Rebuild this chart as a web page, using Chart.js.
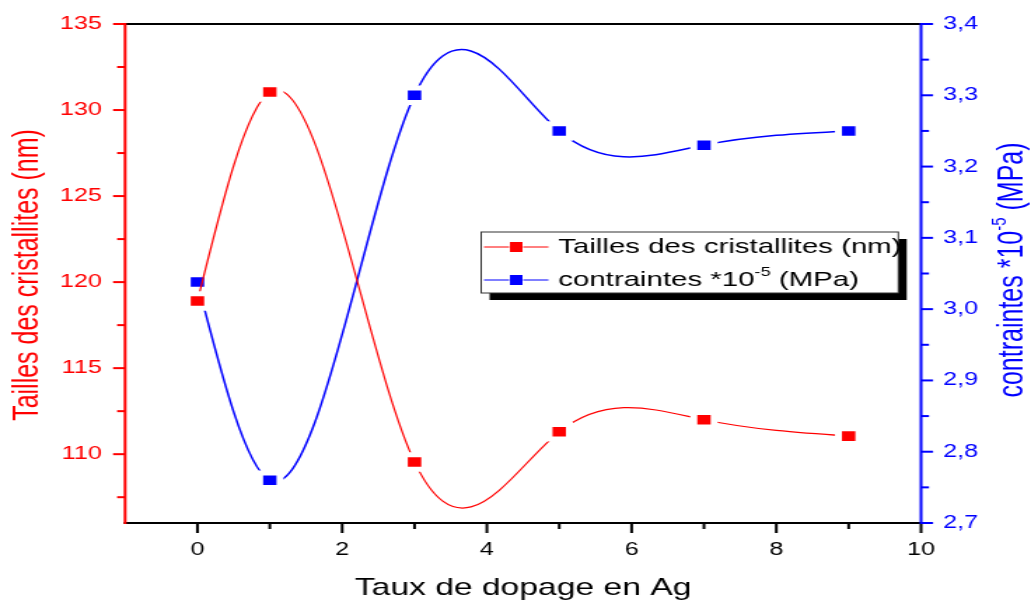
<!DOCTYPE html>
<html>
<head>
<meta charset="utf-8">
<script src="https://cdn.jsdelivr.net/npm/chart.js@4.4.0/dist/chart.umd.min.js"></script>
<style>
  html, body { margin: 0; padding: 0; background: #fff; overflow: hidden; }
  /* the plot is drawn narrow and widened horizontally */
  #wrap { width: 736px; height: 603px; transform: scaleX(1.4008); transform-origin: 0 0; }
</style>
</head>
<body>
<div id="wrap"><canvas id="chart" width="736" height="603"></canvas></div>
<script>
const dopage = [0, 1, 3, 5, 7, 9];
const tailles = [118.9, 131.05, 109.55, 111.3, 112.0, 111.05];
const contraintes = [3.038, 2.76, 3.30, 3.25, 3.23, 3.25];

const xTicks = [0, 2, 4, 6, 8, 10];
const xMinor = [1, 3, 5, 7, 9];
const leftTicks = [110, 115, 120, 125, 130, 135];
const leftMinor = [107.5, 112.5, 117.5, 122.5, 127.5, 132.5];
const rightTicks = [2.7, 2.8, 2.9, 3.0, 3.1, 3.2, 3.3, 3.4];
const rightMinor = [2.75, 2.85, 2.95, 3.05, 3.15, 3.25, 3.35];

const FONT = '"Liberation Sans", Arial, sans-serif';
const RED = '#ff0000';
const BLUE = '#0000ff';

function seg(ctx, x1, y1, x2, y2, color, w) {
    ctx.beginPath();
    ctx.strokeStyle = color;
    ctx.lineWidth = w;
    ctx.moveTo(x1, y1);
    ctx.lineTo(x2, y2);
    ctx.stroke();
}

// slopes of a natural cubic spline through (xs, ys)
function splineSlopes(xs, ys) {
    const n = xs.length;
    const h = [];
    for (let i = 0; i < n - 1; i++) h.push(xs[i + 1] - xs[i]);
    const a = [], b = [], c = [], d = [];
    for (let i = 1; i < n - 1; i++) {
        a.push(h[i - 1]);
        b.push(2 * (h[i - 1] + h[i]));
        c.push(h[i]);
        d.push(6 * ((ys[i + 1] - ys[i]) / h[i] - (ys[i] - ys[i - 1]) / h[i - 1]));
    }
    const m = d.length;
    for (let i = 1; i < m; i++) {
        const w = a[i] / b[i - 1];
        b[i] -= w * c[i - 1];
        d[i] -= w * d[i - 1];
    }
    const M = new Array(n).fill(0);
    M[m] = d[m - 1] / b[m - 1];
    for (let i = m - 2; i >= 0; i--) M[i + 1] = (d[i] - c[i] * M[i + 2]) / b[i];
    const s = [];
    for (let i = 0; i < n; i++) {
        if (i < n - 1) s.push((ys[i + 1] - ys[i]) / h[i] - h[i] * (2 * M[i] + M[i + 1]) / 6);
        else s.push((ys[i] - ys[i - 1]) / h[i - 1] + h[i - 1] * (M[i - 1] + 2 * M[i]) / 6);
    }
    return s;
}

// replaces chart.js bezier handles with the ones of a cubic spline
const splinePlugin = {
    id: 'spline',
    beforeDatasetDraw(chart, args) {
        const meta = args.meta;
        const ds = chart.data.datasets[args.index];
        const sx = chart.scales[meta.xAxisID];
        const sy = chart.scales[meta.yAxisID];
        const xs = ds.data.map(p => p.x);
        const ys = ds.data.map(p => p.y);
        const k = splineSlopes(xs, ys);
        meta.data.forEach((pt, i) => {
            const hp = i > 0 ? xs[i] - xs[i - 1] : 0;
            const hn = i < xs.length - 1 ? xs[i + 1] - xs[i] : 0;
            pt.cp1x = sx.getPixelForValue(xs[i] - hp / 3);
            pt.cp1y = sy.getPixelForValue(ys[i] - k[i] * hp / 3);
            pt.cp2x = sx.getPixelForValue(xs[i] + hn / 3);
            pt.cp2y = sy.getPixelForValue(ys[i] + k[i] * hn / 3);
        });
        meta.dataset._pointsUpdated = true;
        meta.dataset._path = undefined;
    }
};

// text with a raised "-5" exponent, drawn from x (left aligned, middle baseline)
function drawPowerText(ctx, x, y, size, color) {
    const parts = ['contraintes *10', '-5', ' (MPa)'];
    ctx.fillStyle = color;
    ctx.textBaseline = 'middle';
    ctx.textAlign = 'left';
    ctx.font = size + 'px ' + FONT;
    ctx.fillText(parts[0], x, y);
    let cx = x + ctx.measureText(parts[0]).width;
    ctx.font = Math.round(size * 0.6) + 'px ' + FONT;
    ctx.fillText(parts[1], cx, y - size * 0.38);
    cx += ctx.measureText(parts[1]).width;
    ctx.font = size + 'px ' + FONT;
    ctx.fillText(parts[2], cx, y);
}

function powerTextWidth(ctx, size) {
    ctx.font = size + 'px ' + FONT;
    let w = ctx.measureText('contraintes *10').width + ctx.measureText(' (MPa)').width;
    ctx.font = Math.round(size * 0.6) + 'px ' + FONT;
    return w + ctx.measureText('-5').width;
}

const framePlugin = {
    id: 'frame',
    afterDraw(chart) {
        const { ctx, chartArea: a, scales } = chart;
        const sx = scales.x, sl = scales.y, sr = scales.y1;
        ctx.save();
        ctx.lineCap = 'butt';

        // box edges
        seg(ctx, a.left, a.top, a.right, a.top, '#000', 2);
        seg(ctx, a.left - 1, a.bottom, a.right + 1, a.bottom, '#000', 2);

        // x ticks (outward, down)
        xTicks.forEach(v => {
            const px = sx.getPixelForValue(v);
            seg(ctx, px, a.bottom, px, a.bottom + 10, '#000', 2);
        });
        xMinor.forEach(v => {
            const px = sx.getPixelForValue(v);
            seg(ctx, px, a.bottom, px, a.bottom + 6, '#000', 2);
        });

        // left axis
        seg(ctx, a.left, a.top - 1, a.left, a.bottom + 1, RED, 2);
        leftTicks.forEach(v => {
            const py = sl.getPixelForValue(v);
            seg(ctx, a.left, py, a.left - 8.6, py, RED, 2);
        });
        leftMinor.forEach(v => {
            const py = sl.getPixelForValue(v);
            seg(ctx, a.left, py, a.left - 5.7, py, RED, 2);
        });

        // right axis
        seg(ctx, a.right, a.top - 1, a.right, a.bottom + 1, BLUE, 2);
        rightTicks.forEach(v => {
            const py = sr.getPixelForValue(v);
            seg(ctx, a.right, py, a.right + 8.6, py, BLUE, 2);
        });
        rightMinor.forEach(v => {
            const py = sr.getPixelForValue(v);
            seg(ctx, a.right, py, a.right + 5.7, py, BLUE, 2);
        });

        // axis titles
        ctx.textAlign = 'center';
        ctx.textBaseline = 'alphabetic';
        ctx.fillStyle = '#000';
        ctx.font = '24px ' + FONT;
        ctx.fillText('Taux de dopage en Ag', (a.left + a.right) / 2, 595);

        ctx.save();
        ctx.translate(20, 275);
        ctx.rotate(-Math.PI / 2);
        ctx.fillStyle = RED;
        ctx.textBaseline = 'middle';
        ctx.font = '25px ' + FONT;
        ctx.fillText('Tailles des cristallites (nm)', 0, 0);
        ctx.restore();

        ctx.save();
        ctx.translate(723, 270);
        ctx.rotate(-Math.PI / 2);
        drawPowerText(ctx, -powerTextWidth(ctx, 25) / 2, 0, 25, BLUE);
        ctx.restore();

        // legend
        const lx = 343.5, ly = 232, lw = 297.8, lh = 61;
        ctx.fillStyle = '#000';
        ctx.fillRect(lx + 6, ly + 7, lw, lh);
        ctx.fillStyle = '#fff';
        ctx.fillRect(lx, ly, lw, lh);
        ctx.strokeStyle = '#333';
        ctx.lineWidth = 1;
        ctx.strokeRect(lx, ly, lw, lh);

        const rows = [
            { y: 247, color: RED },
            { y: 280, color: BLUE }
        ];
        rows.forEach(r => {
            seg(ctx, lx + 2, r.y, lx + 20, r.y, r.color, 1);
            seg(ctx, lx + 30, r.y, lx + 48, r.y, r.color, 1);
            ctx.fillStyle = r.color;
            ctx.fillRect(lx + 20.5, r.y - 5, 9, 10);
        });
        ctx.fillStyle = '#000';
        ctx.textAlign = 'left';
        ctx.textBaseline = 'middle';
        ctx.font = '21px ' + FONT;
        ctx.fillText('Tailles des cristallites (nm)', lx + 55, 247);
        drawPowerText(ctx, lx + 55, 280, 21, '#000');

        ctx.restore();
    }
};

function fixedTicks(list) {
    return scale => { scale.ticks = list.map(v => ({ value: v })); };
}

// fixed axis width, and no extra room reserved for the end labels
function fixedWidth(w) {
    return scale => {
        scale.width = w;
        scale.paddingTop = 0;
        scale.paddingBottom = 0;
    };
}

const series = (ys) => dopage.map((x, i) => ({ x: x, y: ys[i] }));

new Chart(document.getElementById('chart').getContext('2d'), {
    type: 'line',
    data: {
        datasets: [{
            label: 'Tailles des cristallites (nm)',
            data: series(tailles),
            yAxisID: 'y',
            borderColor: RED,
            backgroundColor: RED,
            borderWidth: 1.2,
            tension: 0.4,
            pointStyle: 'rect',
            pointRadius: 10.3,
            pointBackgroundColor: RED,
            pointBorderColor: '#fff',
            pointBorderWidth: 5,
            fill: false
        }, {
            label: 'contraintes *10-5 (MPa)',
            data: series(contraintes),
            yAxisID: 'y1',
            borderColor: BLUE,
            backgroundColor: BLUE,
            borderWidth: 1.5,
            tension: 0.4,
            pointStyle: 'rect',
            pointRadius: 10.3,
            pointBackgroundColor: BLUE,
            pointBorderColor: '#fff',
            pointBorderWidth: 5,
            fill: false
        }]
    },
    options: {
        responsive: false,
        animation: false,
        devicePixelRatio: 1,
        layout: { padding: { top: 24, left: 0, right: 0, bottom: 0 } },
        elements: { line: { capBezierPoints: false } },
        plugins: { legend: { display: false }, tooltip: { enabled: false } },
        scales: {
            x: {
                type: 'linear',
                min: -1,
                max: 10,
                afterBuildTicks: fixedTicks(xTicks),
                afterFit: s => { s.height = 80; },
                grid: { display: false, drawTicks: false },
                border: { display: false },
                ticks: { color: '#000', font: { size: 18, family: FONT }, padding: 16, maxRotation: 0 }
            },
            y: {
                position: 'left',
                min: 106,
                max: 135,
                afterBuildTicks: fixedTicks(leftTicks),
                afterFit: fixedWidth(89.3),
                grid: { display: false, drawTicks: false },
                border: { display: false },
                ticks: { color: RED, font: { size: 18, family: FONT }, padding: 16.5 }
            },
            y1: {
                position: 'right',
                min: 2.7,
                max: 3.4,
                afterBuildTicks: fixedTicks(rightTicks),
                afterFit: fixedWidth(78.5),
                grid: { display: false, drawTicks: false },
                border: { display: false },
                ticks: {
                    color: BLUE,
                    font: { size: 18, family: FONT },
                    padding: 15.7,
                    callback: v => v.toFixed(1).replace('.', ',')
                }
            }
        }
    },
    plugins: [splinePlugin, framePlugin]
});
</script>
</body>
</html>
